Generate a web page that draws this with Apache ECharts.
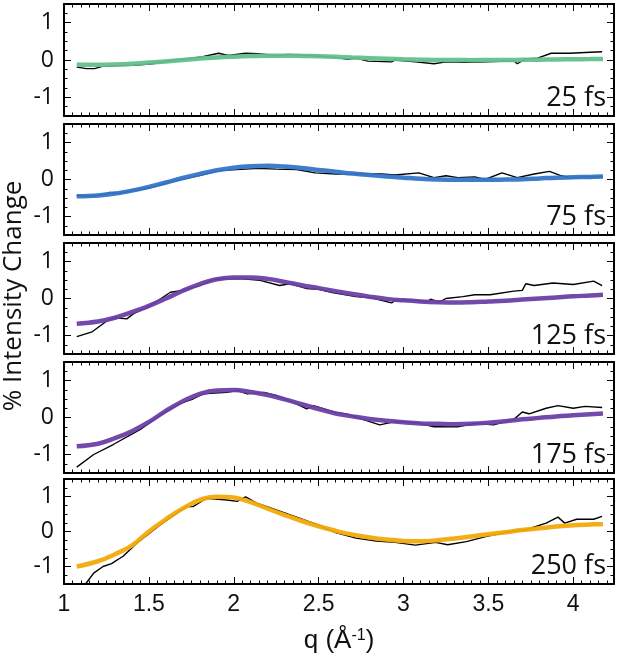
<!DOCTYPE html>
<html><head><meta charset="utf-8">
<script src="https://cdn.jsdelivr.net/npm/echarts@6/dist/echarts.min.js"></script>
<style>html,body{margin:0;padding:0;background:#fff}#c{width:620px;height:662px}</style>
</head><body><div id="c"></div><script>
const panelLabels = ['25 fs', '75 fs', '125 fs', '175 fs', '250 fs'];
const fitColors = ['#63c08e', '#3575c8', '#6b3fa6', '#6b3fa6', '#f2aa0b'];
const xTickLabels = [1, 1.5, 2, 2.5, 3, 3.5, 4];
const yTickLabels = [-1, 0, 1];

// measured traces (black)
const q25 = [1.075,1.133,1.18,1.226,1.32,1.41,1.52,1.62,1.72,1.81,1.91,1.97,2.07,2.14,2.25,2.32,2.41,2.51,2.6,2.67,2.72,2.79,2.93,2.95,3.07,3.18,3.25,3.37,3.49,3.65,3.67,3.72,3.79,3.87,3.98,4.07,4.17];
const raw25 = [-0.19,-0.23,-0.23,-0.17,-0.15,-0.14,-0.1,-0.02,0.03,0.08,0.18,0.12,0.18,0.17,0.12,0.15,0.13,0.1,0.07,0.02,0.05,-0.03,-0.05,0.0,-0.05,-0.1,-0.05,-0.06,-0.05,-0.02,-0.1,0.03,0.05,0.18,0.18,0.2,0.22];
const q75 = [1.075,1.16,1.25,1.27,1.32,1.41,1.48,1.53,1.62,1.72,1.81,1.91,1.99,2.07,2.14,2.25,2.37,2.48,2.6,2.72,2.87,2.95,3.09,3.18,3.25,3.32,3.42,3.48,3.58,3.67,3.77,3.86,3.93,3.98,4.07,4.17];
const raw75 = [-0.44,-0.45,-0.4,-0.35,-0.38,-0.3,-0.25,-0.2,-0.07,0.03,0.12,0.24,0.26,0.28,0.3,0.28,0.27,0.18,0.15,0.15,0.15,0.12,0.18,0.05,0.1,0.05,0.07,0.0,0.18,0.05,0.15,0.22,0.1,0.05,0.07,0.07];
const q125 = [1.075,1.166,1.254,1.3,1.37,1.41,1.5,1.627,1.7,1.8,1.88,1.94,2.05,2.156,2.27,2.33,2.43,2.5,2.58,2.72,2.81,2.93,2.95,3.07,3.14,3.16,3.21,3.25,3.35,3.42,3.51,3.65,3.7,3.72,3.77,3.88,4.0,4.12,4.17];
const raw125 = [-1.03,-0.9,-0.6,-0.52,-0.55,-0.41,-0.22,0.17,0.22,0.35,0.51,0.53,0.53,0.49,0.35,0.4,0.27,0.25,0.16,0.05,0.02,-0.12,-0.05,-0.05,-0.08,-0.02,-0.1,0.0,0.05,0.1,0.1,0.2,0.22,0.4,0.35,0.42,0.38,0.47,0.35];
const q175 = [1.075,1.175,1.29,1.45,1.57,1.685,1.76,1.82,1.96,2.02,2.08,2.18,2.26,2.35,2.43,2.47,2.6,2.67,2.76,2.86,2.95,3.07,3.18,3.32,3.42,3.53,3.65,3.7,3.74,3.84,3.91,4.0,4.07,4.17];
const raw175 = [-1.34,-1.0,-0.73,-0.32,0.07,0.38,0.5,0.64,0.68,0.73,0.64,0.68,0.58,0.41,0.23,0.32,0.14,0.09,-0.05,-0.2,-0.11,-0.14,-0.25,-0.25,-0.16,-0.2,-0.05,0.15,0.1,0.25,0.32,0.25,0.3,0.27];
const q250 = [1.075,1.127,1.175,1.23,1.28,1.35,1.43,1.57,1.72,1.76,1.84,1.96,2.02,2.07,2.14,2.25,2.37,2.49,2.6,2.72,2.84,2.95,3.07,3.19,3.26,3.37,3.49,3.63,3.72,3.84,3.91,3.95,4.02,4.12,4.17];
const raw250 = [-2.1,-1.5,-1.19,-1.0,-0.92,-0.7,-0.33,0.2,0.71,0.71,0.95,0.9,0.86,0.99,0.8,0.62,0.41,0.2,-0.03,-0.19,-0.27,-0.31,-0.39,-0.31,-0.38,-0.29,-0.14,0.0,0.05,0.24,0.41,0.24,0.35,0.35,0.43];

// fitted curves (coloured)
const fitQ = [1.075,1.2,1.3,1.4,1.5,1.6,1.7,1.8,1.9,2.0,2.1,2.2,2.3,2.4,2.5,2.6,2.7,2.8,2.9,3.0,3.1,3.2,3.3,3.4,3.5,3.6,3.7,3.8,3.9,4.0,4.1,4.175];
const fit25 = [-0.12,-0.13,-0.12,-0.1,-0.07,-0.04,0.0,0.04,0.07,0.09,0.105,0.115,0.115,0.11,0.1,0.085,0.065,0.05,0.035,0.02,0.01,0.0,0.0,-0.005,0.0,0.0,0.005,0.01,0.015,0.02,0.025,0.03];
const fit75 = [-0.45,-0.43,-0.38,-0.3,-0.2,-0.08,0.04,0.15,0.25,0.32,0.36,0.37,0.35,0.31,0.26,0.21,0.16,0.12,0.08,0.05,0.02,0.0,-0.01,-0.01,-0.01,0.0,0.01,0.03,0.05,0.06,0.07,0.08];
const fit125 = [-0.68,-0.62,-0.52,-0.37,-0.2,0.0,0.21,0.39,0.52,0.57,0.57,0.53,0.45,0.36,0.28,0.2,0.12,0.05,-0.01,-0.05,-0.08,-0.1,-0.11,-0.1,-0.08,-0.06,-0.03,0.0,0.03,0.06,0.08,0.1];
const fit175 = [-0.78,-0.71,-0.56,-0.37,-0.12,0.18,0.44,0.64,0.73,0.74,0.69,0.61,0.49,0.36,0.23,0.11,0.03,-0.04,-0.09,-0.13,-0.16,-0.17,-0.18,-0.17,-0.14,-0.1,-0.05,-0.01,0.03,0.06,0.09,0.11];
const fit250 = [-1.0,-0.85,-0.65,-0.4,0.0,0.35,0.66,0.9,0.99,0.97,0.84,0.65,0.47,0.3,0.15,0.02,-0.09,-0.17,-0.23,-0.27,-0.28,-0.25,-0.2,-0.14,-0.08,-0.02,0.04,0.09,0.14,0.18,0.2,0.21];

const rawQ = [q25, q75, q125, q175, q250];
const rawV = [raw25, raw75, raw125, raw175, raw250];
const fitV = [fit25, fit75, fit125, fit175, fit250];

// layout
const tops = [4, 124, 243, 362, 479];
const heights = [112, 111, 111, 111, 105];
const X_MIN = 1, X_MAX = 4.24, Y_MIN = -1.5, Y_MAX = 1.5;

const xMinor = []; for (let k = 0; k <= 64; k++) { const v = +(1 + k * 0.05).toFixed(2); if (v <= 4.2) xMinor.push(v); }
const yMinor = []; for (let k = 0; k <= 12; k++) yMinor.push(+(-1.5 + k * 0.25).toFixed(2));

const LINE = { show: true, onZero: false, lineStyle: { color: '#000', width: 2 } };
const NOLINE = { show: false, onZero: false };

const grids = [], xAxes = [], yAxes = [], series = [], graphics = [];
for (let i = 0; i < 5; i++) {
  grids.push({ left: 64, right: 6, top: tops[i], height: heights[i], containLabel: false, outerBoundsMode: 'none' });
  const last = i === 4;
  const xb = (pos, major) => ({
    type: 'value', gridIndex: i, position: pos, min: X_MIN, max: X_MAX,
    axisLine: major ? LINE : NOLINE,
    axisTick: { show: true, inside: true, length: major ? 7 : 3.5, customValues: major ? xTickLabels : xMinor, lineStyle: { color: '#000', width: 1 } },
    axisLabel: (major && pos === 'bottom' && last) ? { show: true, customValues: xTickLabels, margin: 9, color: '#111', fontSize: 23, fontFamily: 'Liberation Sans' } : { show: false },
    splitLine: { show: false }
  });
  xAxes.push(xb('bottom', true), xb('bottom', false), xb('top', true), xb('top', false));
  const yb = (pos, major) => ({
    type: 'value', gridIndex: i, position: pos, min: Y_MIN, max: Y_MAX,
    axisLine: major ? LINE : NOLINE,
    axisTick: { show: true, inside: true, length: major ? 7 : 3.5, customValues: major ? yTickLabels : yMinor, lineStyle: { color: '#000', width: 1 } },
    axisLabel: (major && pos === 'left') ? { show: true, customValues: yTickLabels, margin: 10, color: '#111', fontSize: 23, fontFamily: 'Open Sans' } : { show: false },
    splitLine: { show: false }
  });
  yAxes.push(yb('left', true), yb('left', false), yb('right', true), yb('right', false));

  series.push({
    type: 'line', xAxisIndex: i * 4, yAxisIndex: i * 4, showSymbol: false, clip: true, z: 2,
    lineStyle: { color: '#000', width: 1.4 }, itemStyle: { color: '#000' },
    data: rawQ[i].map((x, k) => [x, rawV[i][k]])
  });
  series.push({
    type: 'line', xAxisIndex: i * 4, yAxisIndex: i * 4, showSymbol: false, clip: true, z: 3, smooth: 0.4,
    lineStyle: { color: fitColors[i], width: 4.5, opacity: 0.95 }, itemStyle: { color: fitColors[i] },
    data: fitQ.map((x, k) => [x, fitV[i][k]])
  });
  graphics.push({
    type: 'text', x: 606, y: tops[i] + heights[i] - 4, z: 10,
    style: { text: panelLabels[i], font: '27px "Open Sans"', fill: '#111', align: 'right', verticalAlign: 'bottom' }
  });
}
graphics.push({
  type: 'text', x: 14, y: 296, rotation: Math.PI / 2, z: 10,
  style: { text: '% Intensity Change', font: '26px "Open Sans"', fill: '#111', align: 'center', verticalAlign: 'middle' }
});
graphics.push({
  type: 'text', x: 339, y: 641, z: 10,
  style: {
    text: 'q (Å{sup|-1})', font: '26px "Liberation Sans"', fill: '#111', align: 'center', verticalAlign: 'middle',
    rich: { sup: { fontSize: 16, fontFamily: 'Liberation Sans', verticalAlign: 'top', fill: '#111', lineHeight: 26 } }
  }
});

const chart = echarts.init(document.getElementById('c'), null, { renderer: 'canvas' });
chart.setOption({
  animation: false, backgroundColor: '#fff',
  grid: grids, xAxis: xAxes, yAxis: yAxes, series: series, graphic: graphics
});
</script></body></html>
